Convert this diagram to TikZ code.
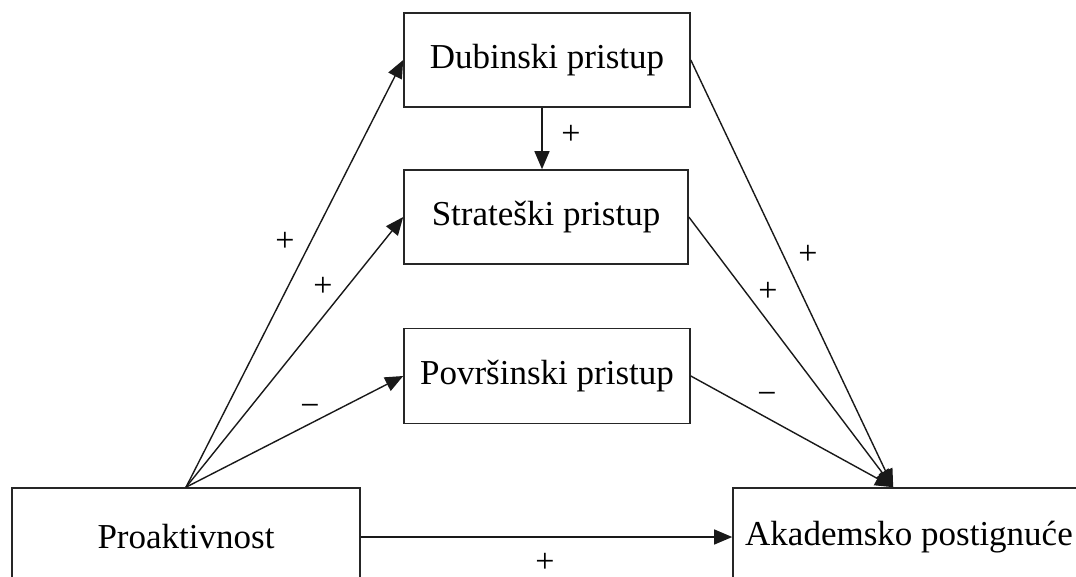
\documentclass[tikz,border=0pt]{standalone}
\usepackage{fontspec}
\setmainfont{Liberation Serif}
\usetikzlibrary{arrows.meta,calc}
\begin{document}
\begin{tikzpicture}[x=1pt,y=1pt,
  box/.style={draw=black!85,line width=1.6pt,inner sep=0pt,align=center,font=\fontsize{35}{42}\selectfont},
  conn/.style={line width=1.4pt,draw=black!90,-{Triangle[length=18pt,width=15pt]}},
  sign/.style={font=\fontsize{34}{40}\selectfont,inner sep=0pt}]
\useasboundingbox[fill=white] (0,0) rectangle (1076,-577);
\node[box,minimum width=286pt,minimum height=94pt] (dub) at (547,-60) {Dubinski pristup};
\node[box,minimum width=284pt,minimum height=94pt] (str) at (546,-217) {Strateški pristup};
\node[box,minimum width=286pt,minimum height=95pt] (pov) at (547,-376) {Površinski pristup};
\node[box,minimum width=348pt,minimum height=98pt] (pro) at (186,-537) {Proaktivnost};
\node[box,minimum width=352pt,minimum height=98pt] (aka) at (909,-537) {Akademsko postignuće};
\coordinate (src) at (pro.north);
\coordinate (conv) at ($(aka.north west)+(161,0)$);
\draw[conn] (src) -- (dub.west);
\draw[conn] (src) -- (str.west);
\draw[conn] (src) -- (pov.west);
\draw[conn] (dub.east) -- (conv);
\draw[conn] (str.east) -- (conv);
\draw[conn] (pov.east) -- (conv);
\draw[conn] ([xshift=-5pt]dub.south) -- ([xshift=-4pt]str.north);
\draw[conn] (pro.east) -- (aka.west);
\node[sign] (l1) at (285,-242) {+};
\node[sign] (l2) at (323,-287) {+};
\node[sign] (l3) at (310,-410) {−};
\node[sign] (l4) at (571,-135) {+};
\node[sign] (l5) at (808,-255) {+};
\node[sign] (l6) at (768,-292) {+};
\node[sign] (l7) at (767,-398) {−};
\node[sign] (l8) at (545,-563) {+};
\end{tikzpicture}
\end{document}
